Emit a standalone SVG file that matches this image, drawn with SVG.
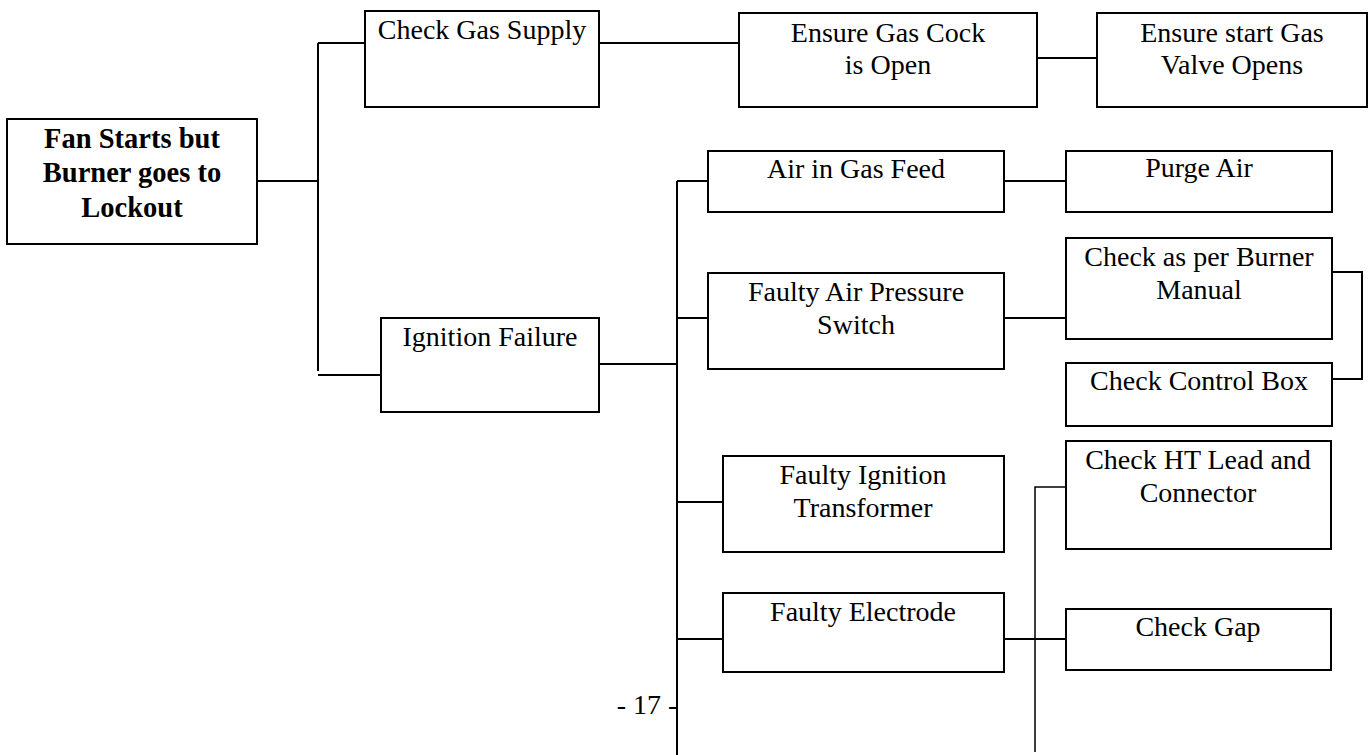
<svg xmlns="http://www.w3.org/2000/svg" width="1370" height="755" viewBox="0 0 1370 755">
<style>
.box{fill:#fff;stroke:#000;stroke-width:2}
.t{font-family:"Liberation Serif","Times New Roman",serif;font-size:28px;fill:#000;text-anchor:middle}
.b{font-weight:bold;font-size:28.5px}
.c{fill:none;stroke:#000;stroke-width:2}
.thin{stroke-width:1.5}
</style>
<rect width="1370" height="755" fill="#fff"/>
<g id="connectors">
<path class="c" d="M257 181H318"/>
<path class="c" d="M318 43V371"/>
<path class="c" d="M318 43H365"/>
<path class="c" d="M318 375H381"/>
<path class="c" d="M599 43H739"/>
<path class="c" d="M1035 58H1097"/>
<path class="c" d="M599 364H677"/>
<path class="c" d="M677 181V755"/>
<path class="c" d="M677 181H708"/>
<path class="c" d="M677 318H708"/>
<path class="c" d="M677 502H723"/>
<path class="c" d="M677 639H723"/>
<path class="c" d="M1004 181H1066"/>
<path class="c" d="M1004 318H1066"/>
<path class="c" d="M1332 272H1362V379H1332"/>
<path class="c" d="M1004 639H1066"/>
<path class="c thin" d="M1035 752V487H1066"/>
</g>
<g id="root">
<rect class="box" x="7" y="119" width="250" height="125"/>
<text class="t b" x="132" y="148">Fan Starts but</text>
<text class="t b" x="132" y="182">Burner goes to</text>
<text class="t b" x="132" y="217">Lockout</text>
</g>
<g id="check-gas-supply">
<rect class="box" x="365" y="11" width="234" height="96"/>
<text class="t" x="482" y="39">Check Gas Supply</text>
</g>
<g id="ignition-failure">
<rect class="box" x="381" y="318" width="218" height="94"/>
<text class="t" x="490" y="346">Ignition Failure</text>
</g>
<g id="ensure-gas-cock">
<rect class="box" x="739" y="13" width="298" height="94"/>
<text class="t" x="888" y="42">Ensure Gas Cock</text>
<text class="t" x="888" y="74">is Open</text>
</g>
<g id="ensure-start-gas">
<rect class="box" x="1097" y="13" width="270" height="94"/>
<text class="t" x="1232" y="42">Ensure start Gas</text>
<text class="t" x="1232" y="74">Valve Opens</text>
</g>
<g id="air-in-gas-feed">
<rect class="box" x="708" y="151" width="296" height="61"/>
<text class="t" x="856" y="178">Air in Gas Feed</text>
</g>
<g id="purge-air">
<rect class="box" x="1066" y="151" width="266" height="61"/>
<text class="t" x="1199" y="177">Purge Air</text>
</g>
<g id="faulty-air-pressure-switch">
<rect class="box" x="708" y="273" width="296" height="96"/>
<text class="t" x="856" y="301">Faulty Air Pressure</text>
<text class="t" x="856" y="334">Switch</text>
</g>
<g id="check-burner-manual">
<rect class="box" x="1066" y="238" width="266" height="101"/>
<text class="t" x="1199" y="266">Check as per Burner</text>
<text class="t" x="1199" y="299">Manual</text>
</g>
<g id="check-control-box">
<rect class="box" x="1066" y="363" width="266" height="63"/>
<text class="t" x="1199" y="390">Check Control Box</text>
</g>
<g id="faulty-ignition-transformer">
<rect class="box" x="723" y="456" width="281" height="96"/>
<text class="t" x="863" y="484">Faulty Ignition</text>
<text class="t" x="863" y="517">Transformer</text>
</g>
<g id="check-ht-lead">
<rect class="box" x="1066" y="441" width="265" height="108"/>
<text class="t" x="1198" y="469">Check HT Lead and</text>
<text class="t" x="1198" y="502">Connector</text>
</g>
<g id="faulty-electrode">
<rect class="box" x="723" y="593" width="281" height="79"/>
<text class="t" x="863" y="621">Faulty Electrode</text>
</g>
<g id="check-gap">
<rect class="box" x="1066" y="609" width="265" height="61"/>
<text class="t" x="1198" y="636">Check Gap</text>
</g>
<text class="t" x="647" y="714">- 17 -</text>
</svg>
